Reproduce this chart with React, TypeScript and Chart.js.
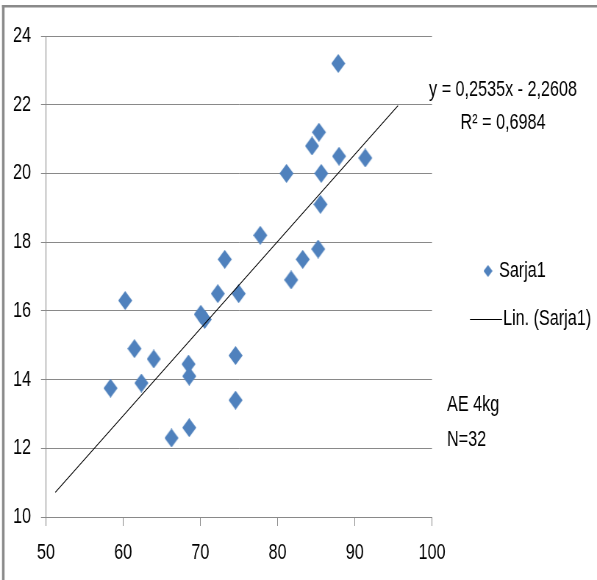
import React, { useEffect, useRef } from "react";
import { Chart, registerables } from "chart.js";

Chart.register(...registerables);

// ---- data ----
const xValues = [58.4, 60.3, 61.5, 62.4, 64.0, 66.3, 68.5, 68.6, 68.6, 70.1, 70.6, 72.3, 73.2, 75.0, 74.6, 74.6, 77.8, 81.2, 81.8, 83.3, 85.3, 85.6, 85.7, 84.5, 85.4, 88.0, 87.9, 91.4];
const yValues = [13.75, 16.3, 14.9, 13.9, 14.6, 12.3, 14.45, 14.1, 12.6, 15.9, 15.75, 16.5, 17.5, 16.5, 14.7, 13.4, 18.2, 20.0, 16.9, 17.5, 17.8, 19.1, 20.0, 20.8, 21.2, 20.5, 23.2, 20.45];
const trendSlope = 0.2535;
const trendIntercept = -2.2608;
const trendRange = [51.2, 95.6];
const xTicks = [50, 60, 70, 80, 90, 100];
const yTicks = [10, 12, 14, 16, 18, 20, 22, 24];
const seriesName = "Sarja1";
const trendName = "Lin. (Sarja1)";
const equationText = "y = 0,2535x - 2,2608";
const r2Text = "R\u00B2 = 0,6984";
const noteLines = ["AE 4kg", "N=32"];

// ---- layout / style ----
const VIEW_W = 597;
const VIEW_H = 580;
const SX = 0.735; // horizontal squeeze (narrow, Calibri-like look)
const CW = Math.round(VIEW_W / SX);
const S = VIEW_W / CW;
const cx = (px: number) => px / S; // screen x -> canvas x

const FONT = "'Liberation Sans', Arimo, Arial, sans-serif";
const FONT_SIZE = 22;
const BLUE = "#4f81bd";
const GRID = "#898989";

function makeDiamond(w: number, h: number): HTMLCanvasElement {
  const c = document.createElement("canvas");
  c.width = Math.ceil(w);
  c.height = Math.ceil(h);
  const g = c.getContext("2d")!;
  g.fillStyle = BLUE;
  g.beginPath();
  g.moveTo(w / 2, 0);
  g.lineTo(w, h / 2);
  g.lineTo(w / 2, h);
  g.lineTo(0, h / 2);
  g.closePath();
  g.fill();
  return c;
}

export default function App() {
  const ref = useRef<HTMLCanvasElement | null>(null);

  useEffect(() => {
    const canvas = ref.current;
    if (!canvas) return;
    const bigDiamond = makeDiamond(cx(14), 19);
    const smallW = cx(9);
    const smallDiamond = makeDiamond(smallW, 12);

    const overlay = {
      id: "overlay",
      beforeDraw(chart: any) {
        const ctx = chart.ctx;
        ctx.save();
        ctx.fillStyle = "#ffffff";
        ctx.fillRect(0, 0, chart.width, chart.height);
        ctx.fillStyle = "#8a8a8a";
        ctx.fillRect(cx(2), 5, chart.width - cx(2), 2.5);
        ctx.fillRect(cx(2), 5, cx(2.5), chart.height - 5);
        ctx.restore();
      },
      afterDraw(chart: any) {
        const ctx = chart.ctx;
        ctx.save();
        ctx.fillStyle = "#000";
        ctx.font = `${FONT_SIZE}px ${FONT}`;
        ctx.textBaseline = "middle";
        ctx.textAlign = "center";
        ctx.fillText(equationText, cx(503), 90);
        ctx.fillText(r2Text, cx(503), 123);
        ctx.textAlign = "left";
        // legend
        ctx.drawImage(smallDiamond, cx(488) - smallW / 2, 271 - 6);
        ctx.fillText(seriesName, cx(499), 271);
        ctx.strokeStyle = "#000";
        ctx.lineWidth = 1;
        ctx.beginPath();
        ctx.moveTo(cx(470), 319.5);
        ctx.lineTo(cx(502), 319.5);
        ctx.stroke();
        ctx.fillText(trendName, cx(503), 319);
        // notes
        ctx.fillText(noteLines[0], cx(447), 405);
        ctx.fillText(noteLines[1], cx(447), 440);
        ctx.restore();
      },
    };

    const chart = new Chart(canvas, {
      type: "scatter",
      data: {
        datasets: [
          {
            label: seriesName,
            data: xValues.map((x, i) => ({ x, y: yValues[i] })),
            pointStyle: bigDiamond as any,
            pointRadius: 10,
            pointHoverRadius: 10,
            backgroundColor: BLUE,
            borderColor: BLUE,
            order: 2,
          },
          {
            label: trendName,
            data: trendRange.map((x) => ({ x, y: trendSlope * x + trendIntercept })),
            showLine: true,
            borderColor: "#000",
            borderWidth: 1.1,
            pointRadius: 0,
            order: 1,
          },
        ],
      },
      options: {
        animation: false,
        responsive: false,
        devicePixelRatio: 1,
        layout: { padding: { left: 0, top: 36, right: CW - cx(432), bottom: 0 } },
        plugins: {
          legend: { display: false },
          tooltip: { enabled: false },
        },
        scales: {
          x: {
            type: "linear",
            min: xTicks[0],
            max: xTicks[xTicks.length - 1],
            afterBuildTicks: (s: any) => {
              s.ticks = xTicks.map((v) => ({ value: v }));
            },
            afterFit: (s: any) => {
              s.height = VIEW_H - 517;
            },
            ticks: { color: "#000", padding: 14, font: { family: FONT, size: FONT_SIZE } },
            grid: { drawOnChartArea: false, tickLength: 9, color: GRID },
            border: { color: GRID },
          },
          y: {
            type: "linear",
            min: yTicks[0],
            max: yTicks[yTicks.length - 1],
            afterBuildTicks: (s: any) => {
              s.ticks = yTicks.map((v) => ({ value: v }));
            },
            afterFit: (s: any) => {
              s.width = cx(46);
            },
            ticks: { color: "#000", padding: cx(10), font: { family: FONT, size: FONT_SIZE } },
            grid: { tickLength: cx(5), color: GRID },
            border: { color: GRID },
          },
        },
      },
      plugins: [overlay],
    });
    return () => chart.destroy();
  }, []);

  return (
    <div style={{ position: "fixed", left: 0, top: 0, width: VIEW_W, height: VIEW_H, background: "#fff" }}>
      <canvas
        ref={ref}
        width={CW}
        height={VIEW_H}
        style={{ display: "block", width: VIEW_W, height: VIEW_H }}
      />
    </div>
  );
}
